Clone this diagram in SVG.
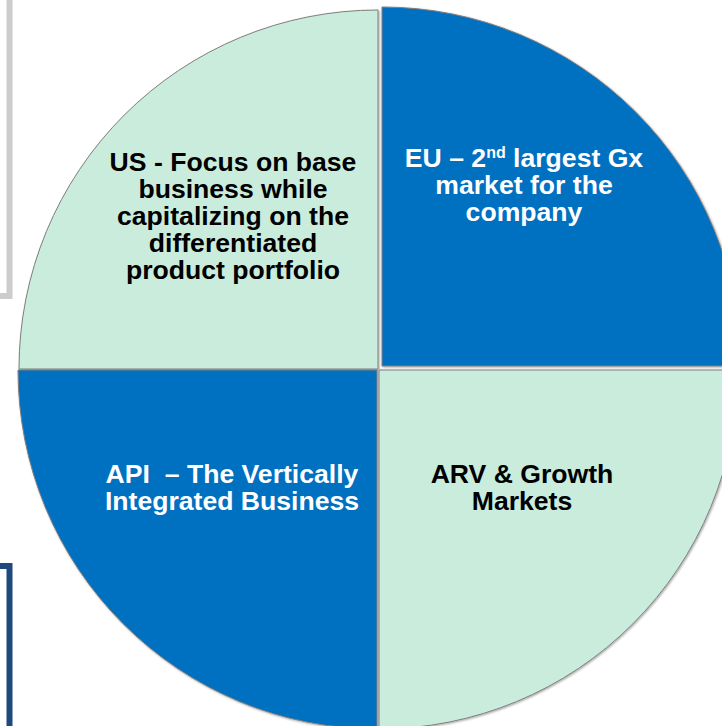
<svg xmlns="http://www.w3.org/2000/svg" width="722" height="726" viewBox="0 0 722 726">
<defs>
<style>
.q{stroke:#7f7f7f;stroke-width:1;filter:url(#sh)}
.g{fill:#c9ecdc}
.b{fill:#0070c0}
.t{font-family:"Liberation Sans",Arial,sans-serif;font-weight:bold;font-size:26.6px;text-anchor:middle}
.dk{fill:#000}
.wh{fill:#fff}
</style>
<filter id="sh" x="-10%" y="-10%" width="120%" height="120%">
<feDropShadow dx="1" dy="1" stdDeviation="1.2" flood-color="#000" flood-opacity="0.35"/>
</filter>
</defs>
<rect width="722" height="726" fill="#fff"/>
<g id="frames">
<path d="M9.5,0 V296 H0" fill="none" stroke="#cccccc" stroke-width="6"/>
<path d="M0,566 H9.5 V726" fill="none" stroke="#1f497d" stroke-width="6"/>
</g>
<g id="connectors"></g>
<g id="us">
<path class="q g" d="M378,369 L19,369 A359,359 0 0 1 378,10 Z"/>
<text class="t dk"><tspan x="233" y="171">US - Focus on base</tspan><tspan x="233" y="198">business while</tspan><tspan x="233" y="225">capitalizing on the</tspan><tspan x="233" y="252">differentiated</tspan><tspan x="233" y="279">product portfolio</tspan></text>
</g>
<g id="eu">
<path class="q b" d="M382,366 L382,7 A359,359 0 0 1 741,366 Z"/>
<text class="t wh"><tspan x="524" y="167">EU – 2<tspan font-size="16" dy="-9">nd</tspan><tspan dy="9"> largest Gx</tspan></tspan><tspan x="524" y="194">market for the</tspan><tspan x="524" y="221">company</tspan></text>
</g>
<g id="api">
<path class="q b" d="M377,370 L377,729 A359,359 0 0 1 18,370 Z"/>
<text class="t wh"><tspan x="232" y="483">API&#160; – The Vertically</tspan><tspan x="232" y="510">Integrated Business</tspan></text>
</g>
<g id="arv">
<path class="q g" d="M379,370 L738,370 A359,359 0 0 1 379,729 Z"/>
<text class="t dk"><tspan x="522" y="483">ARV &amp; Growth</tspan><tspan x="522" y="510">Markets</tspan></text>
</g>
</svg>
